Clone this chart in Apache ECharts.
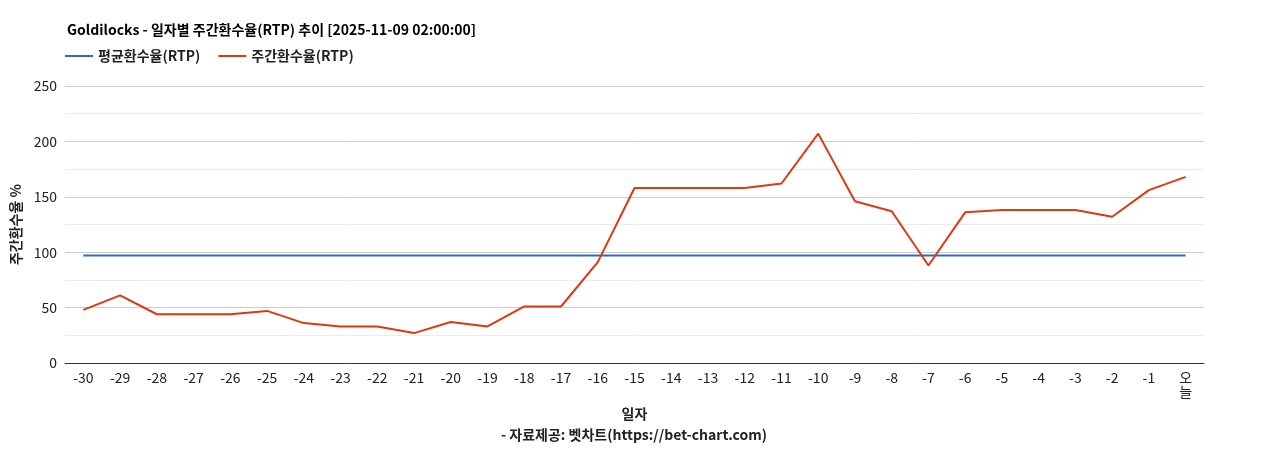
<!DOCTYPE html>
<html>
<head>
<meta charset="utf-8">
<script src="https://cdn.jsdelivr.net/npm/echarts@6/dist/echarts.min.js"></script>
<style>html,body{margin:0;padding:0;background:#fff}#main{width:1268px;height:450px}</style>
</head>
<body>
<div id="main"></div>
<script>
var days = ['-30','-29','-28','-27','-26','-25','-24','-23','-22','-21','-20','-19','-18','-17','-16','-15','-14','-13','-12','-11','-10','-9','-8','-7','-6','-5','-4','-3','-2','-1','오늘'];
var weekly = [48,61,44,44,44,47,36,33,33,27,37,33,51,51,91,158,158,158,158,162,207,146,137,88,136,138,138,138,132,156,168];
var avgRtp = 97;
var average = days.map(function () { return avgRtp; });

var chart = echarts.init(document.getElementById('main'));
var font = '"Noto Sans CJK KR", "Noto Sans", sans-serif';
chart.setOption({
  textStyle: { fontFamily: font },
  title: {
    text: 'Goldilocks - 일자별 주간환수율(RTP) 추이 [2025-11-09 02:00:00]',
    left: 62, top: 18,
    textStyle: { fontSize: 14, fontWeight: 'bold', color: '#000', fontFamily: font }
  },
  legend: {
    left: 60, top: 44, itemWidth: 28, itemHeight: 2, itemGap: 18,
    icon: 'rect',
    textStyle: { fontSize: 14, fontWeight: 'bold', color: '#222' },
    data: ['평균환수율(RTP)', '주간환수율(RTP)']
  },
  graphic: [{
    type: 'text', left: 'center', top: 428,
    style: { text: '- 자료제공: 벳차트(https://bet-chart.com)', font: 'bold 14px ' + font, fill: '#222' }
  }],
  grid: { left: 65, right: 64, top: 86, bottom: 87 },
  xAxis: {
    type: 'category', data: days, boundaryGap: true,
    name: '일자', nameLocation: 'middle', nameGap: 44,
    nameTextStyle: { fontSize: 14, fontWeight: 'bold', color: '#222' },
    axisLine: { lineStyle: { color: '#333' } },
    axisTick: { show: false },
    axisLabel: {
      interval: 0, fontSize: 14, color: '#222', margin: 8,
      formatter: function (v) { return v === '오늘' ? '오\n늘' : v; }
    }
  },
  yAxis: {
    type: 'value', min: 0, max: 250, interval: 50,
    name: '주간환수율 %', nameLocation: 'middle', nameGap: 40, nameRotate: 90,
    nameTextStyle: { fontSize: 14, fontWeight: 'bold', color: '#222' },
    axisLabel: { fontSize: 14, color: '#222' },
    axisLine: { show: false }, axisTick: { show: false },
    splitLine: { lineStyle: { color: '#ccc' } },
    minorTick: { show: false, splitNumber: 2 },
    minorSplitLine: { show: true, lineStyle: { color: '#ececec' } }
  },
  series: [
    {
      name: '평균환수율(RTP)', type: 'line', data: average, symbol: 'none',
      lineStyle: { color: '#3366cc', width: 2 }, itemStyle: { color: '#3366cc' }
    },
    {
      name: '주간환수율(RTP)', type: 'line', data: weekly, symbol: 'none',
      lineStyle: { color: '#dc3912', width: 2 }, itemStyle: { color: '#dc3912' }
    }
  ]
});
</script>
</body>
</html>
